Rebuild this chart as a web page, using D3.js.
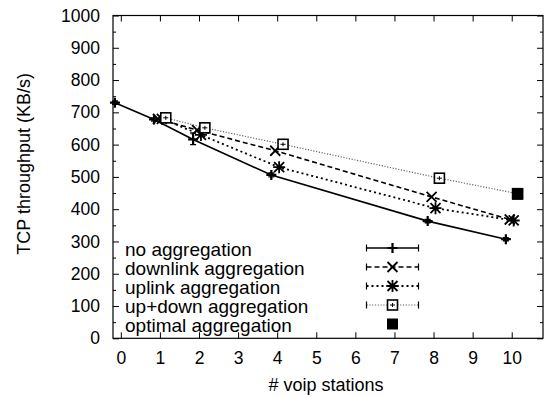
<!DOCTYPE html>
<html><head><meta charset="utf-8">
<script src="https://cdn.jsdelivr.net/npm/d3@7"></script>
<style>body{margin:0;background:#fff}svg{display:block}text{font-family:"Liberation Sans",Arial,sans-serif;fill:#000}</style>
</head><body>
<svg id="c" width="544" height="398"></svg>
<script>
const xTicks = [0,1,2,3,4,5,6,7,8,9,10];
const yTicks = [0,100,200,300,400,500,600,700,800,900,1000];
const seriesNames = ["no aggregation","downlink aggregation","uplink aggregation","up+down aggregation","optimal aggregation"];
const noAggX = [0,1,2,4,8,10];
const noAggY = [730,678,616,506,363,307];
const noAggLo = [725,673,600,500,358,302];
const noAggHi = [735,683,636,512,368,312];
const downX = [1,2,4,8,10];
const downY = [680,645,581,438,368];
const upX = [1,2,4,8,10];
const upY = [680,630,530,403,365];
const udX = [1,2,4,8,10];
const udY = [683,652,601,496,448];
const optX = [10];
const optY = [446];
const jitter = [-0.15,-0.05,0.05,0.15,0.15];

const FS = "17.5px";
const svg = d3.select("#c");
const L=113, R=543, T=15.5, B=338.3;
const x = d3.scaleLinear().domain([-0.2,10.8]).range([L,R]);
const y = d3.scaleLinear().domain([0,1000]).range([B,T]);

svg.append("rect").attr("x",L).attr("y",T).attr("width",R-L).attr("height",B-T).attr("fill","none").attr("stroke","#000").attr("stroke-width",1.2);
svg.append("g").attr("transform",`translate(${L},0)`).call(d3.axisLeft(y).tickValues(yTicks).tickSize(-6).tickPadding(13).tickFormat(d3.format("d")));
svg.append("g").attr("transform",`translate(${R},0)`).call(d3.axisRight(y).tickValues(yTicks).tickSize(-6).tickFormat(""));
const minorY = d3.range(50,1000,100);
svg.append("g").attr("transform",`translate(${L},0)`).call(d3.axisLeft(y).tickValues(minorY).tickSize(-3).tickFormat(""));
svg.append("g").attr("transform",`translate(${R},0)`).call(d3.axisRight(y).tickValues(minorY).tickSize(-3).tickFormat(""));
svg.append("g").attr("transform",`translate(0,${B})`).call(d3.axisBottom(x).tickValues(xTicks).tickSize(-6).tickPadding(13).tickFormat(d3.format("d")));
svg.append("g").attr("transform",`translate(0,${T})`).call(d3.axisTop(x).tickValues(xTicks).tickSize(-6).tickFormat(""));
svg.selectAll(".domain").remove();
svg.selectAll(".tick line").attr("stroke","#000").attr("stroke-width",1);
svg.selectAll(".tick text").style("font-size",FS).style("font-family","Liberation Sans, Arial, sans-serif");

svg.append("text").attr("x",(L+R)/2-2).attr("y",391).attr("text-anchor","middle").style("font-size","18px").text("# voip stations");
svg.append("text").attr("transform",`translate(25,${(T+B)/2-13}) rotate(-90)`).attr("text-anchor","middle").attr("dominant-baseline","middle").style("font-size","18px").text("TCP throughput (KB/s)");

const styles = [
  {dash:null, w:1.6, col:"#000"},
  {dash:"5,3", w:1.6, col:"#000"},
  {dash:"2,3", w:1.8, col:"#000"},
  {dash:"1.2,1.6", w:1.2, col:"#666"},
];

function marker(sel, type, cx, cy) {
  const gg = sel.append("g").attr("transform",`translate(${cx},${cy})`);
  const s = 5;
  if (type===0) {
    gg.append("path").attr("d",`M${-s},0H${s}M0,${-s}V${s}`).attr("stroke","#000").attr("stroke-width",2.2);
  } else if (type===1) {
    gg.append("path").attr("d",`M${-s},${-s}L${s},${s}M${-s},${s}L${s},${-s}`).attr("stroke","#000").attr("stroke-width",1.8);
  } else if (type===2) {
    gg.append("path").attr("d",`M${-s},${-s}L${s},${s}M${-s},${s}L${s},${-s}M${-s-1},0H${s+1}M0,${-s-1}V${s+1}`).attr("stroke","#000").attr("stroke-width",1.8);
  } else if (type===3) {
    gg.append("rect").attr("x",-s).attr("y",-s).attr("width",2*s).attr("height",2*s).attr("fill","#fff").attr("stroke","#000").attr("stroke-width",1.6);
    gg.append("path").attr("d",`M-2.5,0H2.5M0,-2V2`).attr("stroke","#000").attr("stroke-width",1);
  } else {
    gg.append("rect").attr("x",-s-0.5).attr("y",-s-0.5).attr("width",2*s+1).attr("height",2*s+1).attr("fill","#000");
  }
}

const data = [
  {xs:noAggX, ys:noAggY},
  {xs:downX, ys:downY},
  {xs:upX, ys:upY},
  {xs:udX, ys:udY},
];
const line = d3.line().x(d=>d[0]).y(d=>d[1]);
data.forEach((s,i)=>{
  const pts = s.xs.map((v,k)=>[x(v+jitter[i]), y(s.ys[k])]);
  svg.append("path").attr("d",line(pts)).attr("fill","none").attr("stroke",styles[i].col).attr("stroke-width",styles[i].w).attr("stroke-dasharray",styles[i].dash);
});
noAggX.forEach((v,k)=>{
  const cx = x(v+jitter[0]);
  svg.append("path").attr("d",`M${cx},${y(noAggLo[k])}V${y(noAggHi[k])}M${cx-3},${y(noAggLo[k])}H${cx+3}M${cx-3},${y(noAggHi[k])}H${cx+3}`).attr("stroke","#000").attr("stroke-width",1.4).attr("fill","none");
});
data.forEach((s,i)=>{
  s.xs.forEach((v,k)=>marker(svg, i, x(v+jitter[i]), y(s.ys[k])));
});
optX.forEach((v,k)=>marker(svg, 4, x(v+jitter[4]), y(optY[k])));

const lx0=366.5, lx1=418.5, ly0=248, ldy=19;
seriesNames.forEach((name,i)=>{
  const ly = ly0+i*ldy;
  svg.append("text").attr("x",125).attr("y",ly+7.5).style("font-size","19px").text(name);
  if (i<4) {
    svg.append("path").attr("d",`M${lx0},${ly}H${lx1}`).attr("stroke",styles[i].col).attr("stroke-width",styles[i].w).attr("stroke-dasharray",styles[i].dash);
    svg.append("path").attr("d",`M${lx0},${ly-3.5}V${ly+3.5}M${lx1},${ly-3.5}V${ly+3.5}`).attr("stroke","#000").attr("stroke-width",1.2);
  }
  marker(svg, i, (lx0+lx1)/2, ly);
});
</script>
</body></html>
